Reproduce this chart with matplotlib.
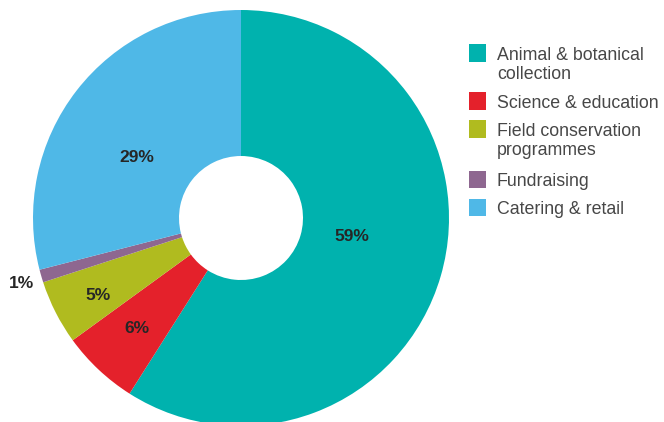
import matplotlib
matplotlib.use("Agg")
import matplotlib.pyplot as plt
import numpy as np
from matplotlib.patches import Rectangle

plt.rcParams['font.family'] = ['Liberation Sans', 'DejaVu Sans']

categories = ["Animal & botanical\ncollection", "Science & education",
              "Field conservation\nprogrammes", "Fundraising", "Catering & retail"]
shares = [59, 6, 5, 1, 29]
pct_labels = ["59%", "6%", "5%", "1%", "29%"]
colors = ["#00B2AE", "#E4212B", "#B0BB1F", "#8E6790", "#4FB8E7"]

# label placement: radius (fraction of outer) and angle nudge in degrees
label_r = [0.54, 0.73, 0.78, 1.10, 0.58]
label_dang = [6.5, 0, 1.5, 0.5, 7.5]

W, H = 664, 422
fig = plt.figure(figsize=(W / 100, H / 100), dpi=100)

cx, cy, R, r_hole = 241, 218, 208, 62
ax = fig.add_axes([(cx - R) / W, (H - cy - R) / H, 2 * R / W, 2 * R / H])

wedges, _ = ax.pie(shares, colors=colors, startangle=90, counterclock=False,
                   radius=1.0, wedgeprops=dict(width=1 - r_hole / R, linewidth=0))
ax.set_xlim(-1, 1)
ax.set_ylim(-1, 1)
ax.set_aspect('equal')
ax.axis('off')

for w, lab, r, da in zip(wedges, pct_labels, label_r, label_dang):
    mid = np.deg2rad((w.theta1 + w.theta2) / 2 + da)
    ax.text(r * np.cos(mid), r * np.sin(mid), lab, ha='center', va='center',
            fontsize=12.5, fontweight='bold', color='#262626', clip_on=False)

# legend drawn by hand
box_x, box_s, text_x = 469, 17, 497
row_y = [53, 101, 129, 179, 207]
for c, name, y in zip(colors, categories, row_y):
    fig.patches.append(Rectangle((box_x / W, 1 - (y + box_s / 2) / H), box_s / W, box_s / H,
                                 transform=fig.transFigure, color=c, linewidth=0))
    fig.text(text_x / W, 1 - (y - 6.5) / H, name, ha='left', va='top',
             fontsize=12.8, color='#474747', linespacing=1.17)

fig.savefig("out.png", dpi=100)
